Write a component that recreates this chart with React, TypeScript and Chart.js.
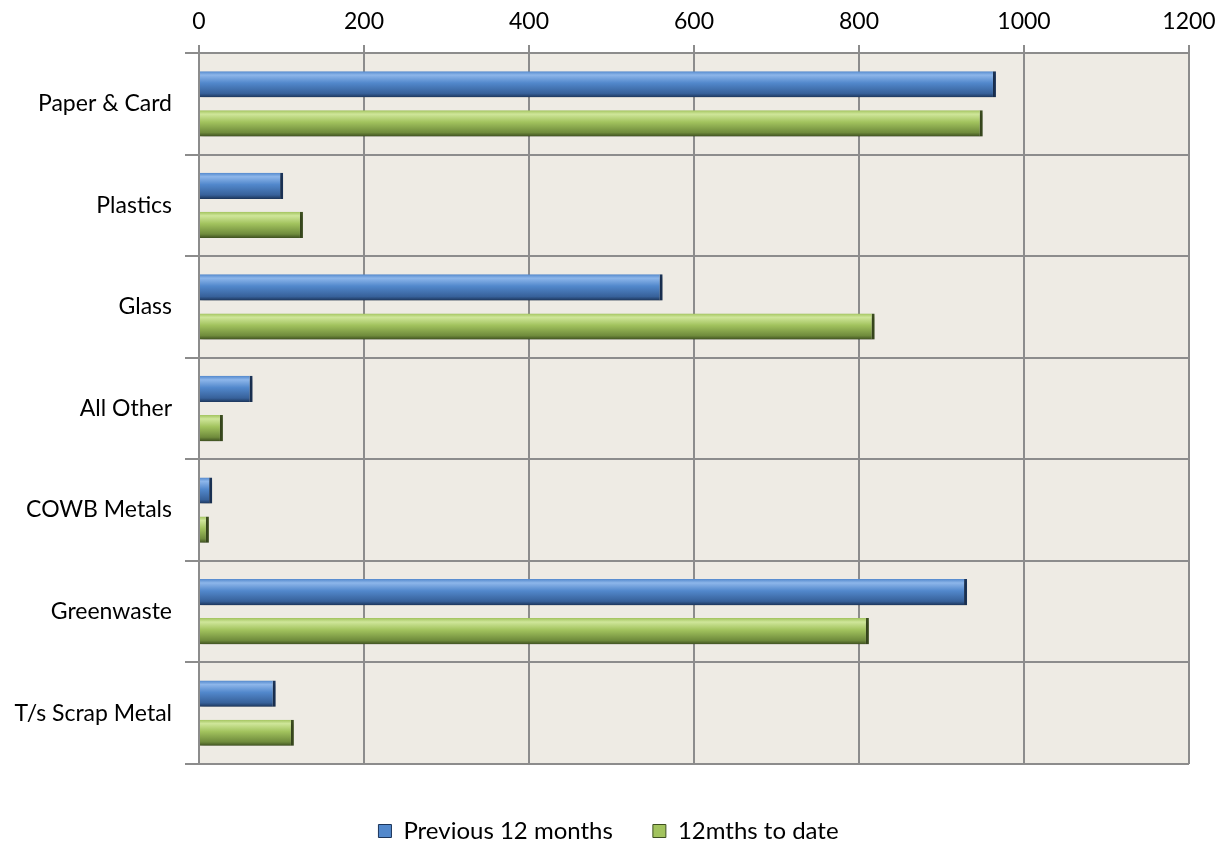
import React, { useEffect, useRef } from "react";
import { Chart, registerables } from "chart.js";

Chart.register(...registerables);

const categories = ["Paper & Card", "Plastics", "Glass", "All Other", "COWB Metals", "Greenwaste", "T/s Scrap Metal"];
const previous12 = [966, 102, 562, 65, 16, 931, 93];
const mths12ToDate = [950, 126, 819, 29, 12, 812, 115];
const seriesLabels = ["Previous 12 months", "12mths to date"];
const xTicks = [0, 200, 400, 600, 800, 1000, 1200];

const FONT = "Lato, 'Open Sans', sans-serif";
const FS = 23;

const palettes = [
  { top: "#8DB6EA", mid: "#5288CC", bot: "#37619A", edge: "#1C355A" },
  { top: "#CFE69A", mid: "#A2C35E", bot: "#6F8B3C", edge: "#3E5020" },
];

function makeGrad(chart: any, di: number, idx: number) {
  const p = palettes[di];
  const meta = chart.getDatasetMeta(di);
  const el = meta && meta.data ? meta.data[idx] : null;
  if (!el || el.y == null || el.height == null || isNaN(el.y)) return p.mid;
  const h = el.height;
  const g = chart.ctx.createLinearGradient(0, el.y - h / 2, 0, el.y + h / 2);
  g.addColorStop(0, p.mid);
  g.addColorStop(0.15, p.top);
  g.addColorStop(0.45, p.mid);
  g.addColorStop(0.85, p.bot);
  g.addColorStop(1, p.edge);
  return g;
}

export default function App() {
  const ref = useRef<HTMLCanvasElement>(null);
  useEffect(() => {
    if (!ref.current) return;
    const bgPlugin = {
      id: "bg",
      beforeDraw(chart: any) {
        const { ctx, chartArea } = chart;
        ctx.save();
        ctx.fillStyle = "#EEEBE4";
        ctx.fillRect(chartArea.left, chartArea.top, chartArea.right - chartArea.left, chartArea.bottom - chartArea.top);
        ctx.restore();
      },
      beforeDatasetsDraw(chart: any) {
        const ctx = chart.ctx;
        ctx.save();
        ctx.shadowColor = "rgba(0,0,0,0.28)";
        ctx.shadowOffsetX = 1;
        ctx.shadowOffsetY = 3;
        ctx.shadowBlur = 4;
      },
      afterDatasetsDraw(chart: any) {
        chart.ctx.restore();
      },
      afterLayout(chart: any) {
        const lg = chart.legend;
        if (lg) {
          const h = lg.bottom - lg.top;
          lg.top = 779;
          lg.bottom = 779 + h;
          lg.left += 14;
          lg.right += 14;
        }
      },
    };
    const chart = new Chart(ref.current, {
      type: "bar",
      data: {
        labels: categories,
        datasets: [
          {
            label: seriesLabels[0],
            data: previous12,
            backgroundColor: (c: any) => makeGrad(c.chart, 0, c.dataIndex),
            borderColor: palettes[0].edge,
            borderWidth: { top: 0, bottom: 0, left: 0, right: 3 } as any,
            borderSkipped: false,
            categoryPercentage: 0.77,
            barPercentage: 0.67,
          },
          {
            label: seriesLabels[1],
            data: mths12ToDate,
            backgroundColor: (c: any) => makeGrad(c.chart, 1, c.dataIndex),
            borderColor: palettes[1].edge,
            borderWidth: { top: 0, bottom: 0, left: 0, right: 3 } as any,
            borderSkipped: false,
            categoryPercentage: 0.77,
            barPercentage: 0.67,
          },
        ],
      },
      options: {
        indexAxis: "y",
        animation: false,
        responsive: false,
        layout: { padding: { left: 0, right: 28, top: 0, bottom: 8 } },
        scales: {
          x: {
            position: "top",
            min: 0,
            max: 1200,
            afterBuildTicks: (s: any) => {
              s.ticks = xTicks.map((v) => ({ value: v }));
            },
            afterFit: (s: any) => {
              s.height = 53;
              s.paddingLeft = 0;
              s.paddingRight = 0;
            },
            ticks: {
              color: "#000",
              font: { family: FONT, size: FS },
              padding: 10,
              maxRotation: 0,
              callback: (v: any) => String(v),
            },
            grid: { color: "#8C8C8C", lineWidth: 2, tickLength: 8 },
            border: { color: "#8C8C8C", width: 2 },
          },
          y: {
            afterFit: (s: any) => {
              s.width = 199;
            },
            ticks: { color: "#000", font: { family: FONT, size: FS }, padding: 13 },
            grid: { color: "#8C8C8C", lineWidth: 2, tickLength: 14, offset: true },
            border: { color: "#8C8C8C", width: 2 },
          },
        },
        plugins: {
          legend: {
            position: "bottom",
            labels: {
              color: "#000",
              font: { family: FONT, size: 24 },
              boxWidth: 13,
              boxHeight: 13,
              padding: 40,
              generateLabels: () =>
                seriesLabels.map((t, i) => ({
                  text: t,
                  fillStyle: palettes[i].mid,
                  strokeStyle: palettes[i].edge,
                  lineWidth: 1,
                  datasetIndex: i,
                  hidden: false,
                })),
            },
          },
          tooltip: { enabled: false },
        },
      } as any,
      plugins: [bgPlugin],
    });
    chart.update();
    return () => chart.destroy();
  }, []);
  return (
    <div style={{ position: "absolute", left: 0, top: 0, width: 1217, height: 846, background: "#fff" }}>
      <canvas ref={ref} width={1217} height={846} style={{ width: 1217, height: 846 }} />
    </div>
  );
}
